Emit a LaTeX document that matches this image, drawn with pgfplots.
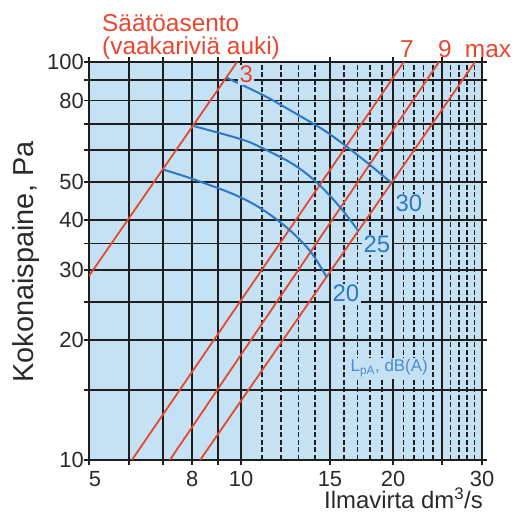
\documentclass[border=0pt]{standalone}
\usepackage{fontspec}
\setmainfont{Liberation Sans}
\usepackage{pgfplots}
\pgfplotsset{compat=1.18}
\definecolor{bgblue}{HTML}{C5E2F5}
\definecolor{redl}{HTML}{E8472F}
\definecolor{bluel}{HTML}{2C78C4}
\definecolor{gridc}{HTML}{1E1E1E}
\definecolor{tickc}{HTML}{2A2A2A}
\begin{document}
\begin{tikzpicture}
\path[use as bounding box] (-89bp,-53bp) rectangle (434bp,460bp);
\begin{loglogaxis}[
  at={(0,0)}, anchor=south west,
  scale only axis, width=393bp, height=398bp,
  xmin=5, xmax=30, ymin=10, ymax=100,
  axis background/.style={fill=bgblue},
  axis line style={line width=1.8bp, gridc},
  xtick={5,6,7,8,9,10,15,20,25,30},
  xticklabels={\hspace{12bp}5,,,8,,10,15,20,,30},
  minor xtick={11,12,13,14,16,17,18,19,21,22,23,24,26,27,28,29},
  ytick={10,15,20,25,30,35,40,50,60,70,80,90,100},
  yticklabels={10,,20,,30,,40,50,,,80,,100},
  minor ytick={},
  grid=both,
  major grid style={line width=1.8bp, gridc},
  minor grid style={line width=1.4bp, gridc, dash pattern=on 5bp off 2.5bp},
  tick align=outside,
  major tick length=5bp, minor tick length=0pt,
  tick style={line width=1.8bp, gridc},
  tick label style={font=\fontsize{22}{24}\selectfont, text=tickc},
  xticklabel style={inner sep=0pt, anchor=north, yshift=-6bp},
  yticklabel style={inner sep=0pt, anchor=east},
]
\addplot[redl, line width=1.8bp] coordinates {(5,29) (9.82,100)};
\addplot[redl, line width=1.8bp] coordinates {(6.08,10) (21.0,100)};
\addplot[redl, line width=1.8bp] coordinates {(7.23,10) (24.65,100)};
\addplot[redl, line width=1.8bp] coordinates {(8.30,10) (29.05,100)};
\addplot[bluel, line width=2bp, smooth, tension=0.55] coordinates {(9.38,91.2) (11.15,82.1) (13.08,73.2) (14.67,67.1) (16.21,61.2) (18.01,55.1) (19.85,49.7)};
\addplot[bluel, line width=2bp, smooth, tension=0.55] coordinates {(8.07,69.0) (9.95,64.1) (10.90,61.2) (12.67,55.4) (14.15,49.7) (15.70,43.2) (17.08,37.6)};
\addplot[bluel, line width=2bp, smooth, tension=0.55] coordinates {(7.04,53.6) (8.03,50.8) (9.64,46.6) (10.90,43.0) (12.34,38.3) (13.70,33.5) (14.78,28.8)};
\end{loglogaxis}
\begin{scope}[every node/.style={inner sep=0pt}]
\node[anchor=base west, text=redl, font=\fontsize{24.5}{26}\selectfont] at (13bp,428bp) {Säätöasento};
\node[anchor=base west, text=redl, font=\fontsize{24.5}{26}\selectfont] at (13bp,405bp) {(vaakariviä auki)};
\node[anchor=base, text=redl, font=\fontsize{24.5}{26}\selectfont] at (318bp,402bp) {7};
\node[anchor=base, text=redl, font=\fontsize{24.5}{26}\selectfont] at (356bp,402bp) {9};
\node[anchor=base, text=redl, font=\fontsize{24.5}{26}\selectfont] at (399bp,402bp) {max};
\node[anchor=base west, text=redl, fill=bgblue, inner sep=1.5bp, font=\fontsize{24}{26}\selectfont] at (149bp,377bp) {3};
\node[anchor=base west, text=bluel, fill=bgblue, inner sep=1.5bp, font=\fontsize{24}{26}\selectfont] at (305bp,248bp) {30};
\node[anchor=base west, text=bluel, fill=bgblue, inner sep=1.5bp, font=\fontsize{24}{26}\selectfont] at (273bp,207bp) {25};
\node[anchor=base west, text=bluel, fill=bgblue, inner sep=1.5bp, font=\fontsize{24}{26}\selectfont] at (242bp,158bp) {20};
\node[anchor=base west, text=bluel!85!white, fill=bgblue, inner sep=1.5bp, font=\fontsize{17}{19}\selectfont] at (260bp,88bp) {L\textsubscript{pA}, dB(A)};
\node[anchor=base east, text=tickc, font=\fontsize{24}{26}\selectfont] at (394bp,-48.5bp) {Ilmavirta dm\textsuperscript{3}/s};
\node[anchor=base, rotate=90, text=tickc, font=\fontsize{29}{31}\selectfont] at (-55bp,198bp) {Kokonaispaine, Pa};
\end{scope}
\end{tikzpicture}
\end{document}
